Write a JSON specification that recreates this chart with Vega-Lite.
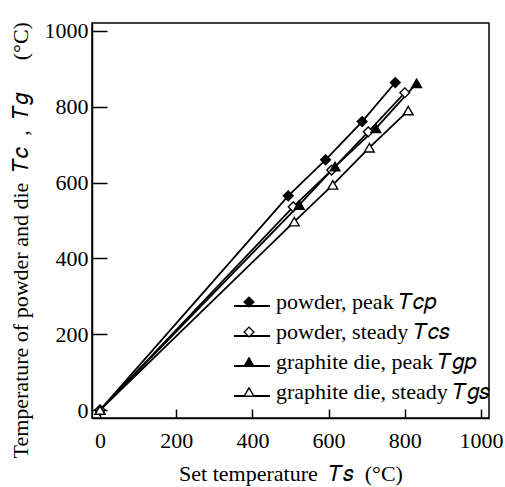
{
  "$schema": "https://vega.github.io/schema/vega-lite/v6.json",
  "width": 397,
  "height": 395,
  "autosize": "none",
  "padding": {"left": 92, "top": 23, "right": 16, "bottom": 69},
  "background": "white",
  "config": {
    "font": "Liberation Serif",
    "view": {"stroke": "black", "strokeWidth": 1.5},
    "axis": {
      "grid": false,
      "domainColor": "black",
      "domainWidth": 1.5,
      "tickColor": "black",
      "tickWidth": 1.5,
      "labelColor": "black",
      "labelFont": "Liberation Serif",
      "labelFontSize": 22,
      "labelFlush": false,
      "format": "d",
      "titleColor": "black",
      "titleFont": "Liberation Serif",
      "titleFontSize": 22,
      "titleFontWeight": "normal"
    },
    "legend": {
      "labelFont": "Liberation Serif",
      "labelFontSize": 22,
      "labelColor": "black",
      "labelLimit": 400
    }
  },
  "data": {
    "values": [
      {"s": "Tcp", "x": 0, "y": 0},
      {"s": "Tcp", "x": 494, "y": 565},
      {"s": "Tcp", "x": 592, "y": 660},
      {"s": "Tcp", "x": 688, "y": 761},
      {"s": "Tcp", "x": 775, "y": 864},
      {"s": "Tcs", "x": 0, "y": 0},
      {"s": "Tcs", "x": 507, "y": 536},
      {"s": "Tcs", "x": 608, "y": 633},
      {"s": "Tcs", "x": 704, "y": 734},
      {"s": "Tcs", "x": 800, "y": 837},
      {"s": "Tgp", "x": 0, "y": 0},
      {"s": "Tgp", "x": 523, "y": 541},
      {"s": "Tgp", "x": 617, "y": 642},
      {"s": "Tgp", "x": 724, "y": 743},
      {"s": "Tgp", "x": 831, "y": 862},
      {"s": "Tgs", "x": 0, "y": 0},
      {"s": "Tgs", "x": 510, "y": 497},
      {"s": "Tgs", "x": 611, "y": 594},
      {"s": "Tgs", "x": 707, "y": 692},
      {"s": "Tgs", "x": 809, "y": 790}
    ]
  },
  "transform": [{"calculate": "datum.s", "as": "lk"}],
  "encoding": {
    "x": {
      "field": "x",
      "type": "quantitative",
      "scale": {"domain": [-21, 1021], "nice": false, "zero": false},
      "axis": {
        "values": [0, 200, 400, 600, 800, 1000],
        "tickSize": -9,
        "labelPadding": 21,
        "labelBaseline": "top",
        "title": "Set temperature\u2002𝑇𝑠\u2002(°C)",
        "titlePadding": 12
      }
    },
    "y": {
      "field": "y",
      "type": "quantitative",
      "scale": {"domain": [-21, 1021], "nice": false, "zero": false},
      "axis": {
        "values": [0, 200, 400, 600, 800, 1000],
        "tickSize": -15,
        "labelPadding": 19,
        "title": "Temperature of powder and die\u2002𝑇𝑐\u2002,\u2002𝑇𝑔\u2003\u2002(°C)",
        "titleX": -72,
        "titleY": 435,
        "titleAngle": -90,
        "titleAlign": "left",
        "titleBaseline": "middle"
      }
    }
  },
  "layer": [
    {
      "mark": {"type": "line", "strokeWidth": 1.8},
      "encoding": {
        "color": {
          "field": "lk",
          "type": "nominal",
          "scale": {"range": ["black", "black", "black", "black"]},
          "legend": {
            "orient": "none",
            "legendX": 139,
            "legendY": 262,
            "title": null,
            "padding": 2,
            "fillColor": "white",
            "zindex": 1,
            "symbolType": "stroke",
            "symbolSize": 1296,
            "symbolStrokeWidth": 1.8,
            "labelOpacity": 0,
            "labelOffset": 9,
            "rowPadding": 0,
            "labelExpr": "'\u2003\u2003\u2003\u2003\u2003\u2003\u2003\u2003\u2003\u2003'"
          }
        }
      }
    },
    {
      "mark": {"type": "point", "filled": true, "strokeWidth": 1.4, "size": 95, "opacity": 1},
      "encoding": {
        "shape": {
          "field": "s",
          "type": "nominal",
          "scale": {"domain": ["Tcp", "Tcs", "Tgp", "Tgs"], "range": ["diamond", "diamond", "triangle-up", "triangle-up"]},
          "legend": {
            "orient": "none",
            "legendX": 144,
            "legendY": 266,
            "title": null,
            "padding": 2,
            "zindex": 2,
            "symbolSize": 95,
            "symbolStrokeWidth": 1.4,
            "labelOffset": 16,
            "rowPadding": 8,
            "labelExpr": "{'Tcp': 'powder, peak 𝑇𝑐𝑝', 'Tcs': 'powder, steady 𝑇𝑐𝑠', 'Tgp': 'graphite die, peak 𝑇𝑔𝑝', 'Tgs': 'graphite die, steady 𝑇𝑔𝑠'}[datum.label]"
          }
        },
        "fill": {
          "field": "s",
          "type": "nominal",
          "scale": {"domain": ["Tcp", "Tcs", "Tgp", "Tgs"], "range": ["black", "white", "black", "white"]}
        },
        "stroke": {
          "field": "s",
          "type": "nominal",
          "scale": {"domain": ["Tcp", "Tcs", "Tgp", "Tgs"], "range": ["black", "black", "black", "black"]}
        }
      }
    }
  ]
}
